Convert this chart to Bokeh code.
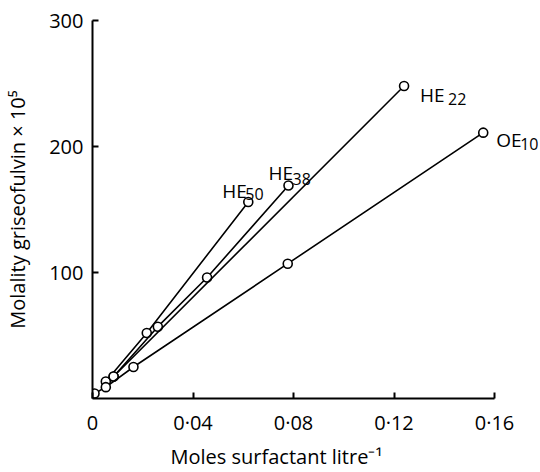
from bokeh.plotting import figure
from bokeh.models import Range1d, FixedTicker, CustomJSTickFormatter, Label, Title
from bokeh.embed import file_html
from bokeh.resources import INLINE

# Data
he50_x = [0.0053, 0.0216, 0.062]
he50_y = [13.5, 52, 156]
he38_x = [0.0084, 0.026, 0.0456, 0.078]
he38_y = [17.5, 57, 96, 169]
he22_x = [0.0084, 0.124]
he22_y = [17.5, 248]
oe10_x = [0.0008, 0.0053, 0.0163, 0.0777, 0.1555]
oe10_y = [4, 9, 25, 107, 211]

x_ticks = [0, 0.04, 0.08, 0.12, 0.16]
y_ticks = [100, 200, 300]

x_title = "Moles surfactant litre\u207b\u00b9"
y_title = "Molality griseofulvin \u00d7 10\u2075"

series = [
    ("HE", "50", he50_x, he50_y, (-26, 11), (-3, 8)),
    ("HE", "38", he38_x, he38_y, (-20, 13), (4, 7)),
    ("HE", "22", he22_x, he22_y, (16, -9), (44, -13)),
    ("OE", "10", oe10_x, oe10_y, (13, -7), (37, -11)),
]

FONT = "Open Sans"

p = figure(width=540, height=472, output_backend="svg", toolbar_location=None,
           x_range=Range1d(0, 0.1775), y_range=Range1d(0, 300),
           min_border_left=92, min_border_right=2, min_border_top=20, min_border_bottom=74)
p.outline_line_color = None
p.xgrid.visible = False
p.ygrid.visible = False
p.background_fill_color = "white"

for main, sub, xs, ys, off_main, off_sub in series:
    p.line(xs, ys, line_color="black", line_width=1.6)
    p.scatter(xs, ys, marker="circle", size=9, fill_color="white",
              line_color="black", line_width=1.6)
    p.add_layout(Label(x=xs[-1], y=ys[-1], x_offset=off_main[0], y_offset=off_main[1],
                       text=main, text_font=FONT, text_font_size="19px",
                       text_color="black", text_baseline="alphabetic"))
    p.add_layout(Label(x=xs[-1], y=ys[-1], x_offset=off_sub[0], y_offset=off_sub[1],
                       text=sub, text_font=FONT, text_font_size="16px",
                       text_color="black", text_baseline="alphabetic"))

for ax in (p.xaxis[0], p.yaxis[0]):
    ax.axis_line_width = 2
    ax.axis_line_color = "black"
    ax.major_tick_in = 6
    ax.major_tick_out = 0
    ax.major_tick_line_width = 2
    ax.minor_tick_line_color = None
    ax.major_label_text_font = FONT
    ax.major_label_text_font_size = "20px"
    ax.major_label_text_color = "black"

p.xaxis.ticker = FixedTicker(ticks=x_ticks)
p.xaxis.bounds = (0, 0.16)
p.xaxis.formatter = CustomJSTickFormatter(
    code="return tick == 0 ? '0' : tick.toFixed(2).replace('.', '\u00b7');")
p.xaxis.major_label_standoff = 10

p.yaxis.ticker = FixedTicker(ticks=y_ticks)
p.yaxis.bounds = (0, 300)
p.yaxis.major_label_standoff = 9
p.yaxis.axis_label = y_title
p.yaxis.axis_label_text_font = FONT
p.yaxis.axis_label_text_font_size = "20px"
p.yaxis.axis_label_text_font_style = "normal"
p.yaxis.axis_label_text_color = "black"
p.yaxis.axis_label_standoff = 15

p.add_layout(Title(text=x_title, align="left", offset=78, standoff=4,
                   text_font=FONT, text_font_size="20px", text_font_style="normal",
                   text_color="black"), "below")

open("out.html", "w").write(file_html(p, INLINE))
